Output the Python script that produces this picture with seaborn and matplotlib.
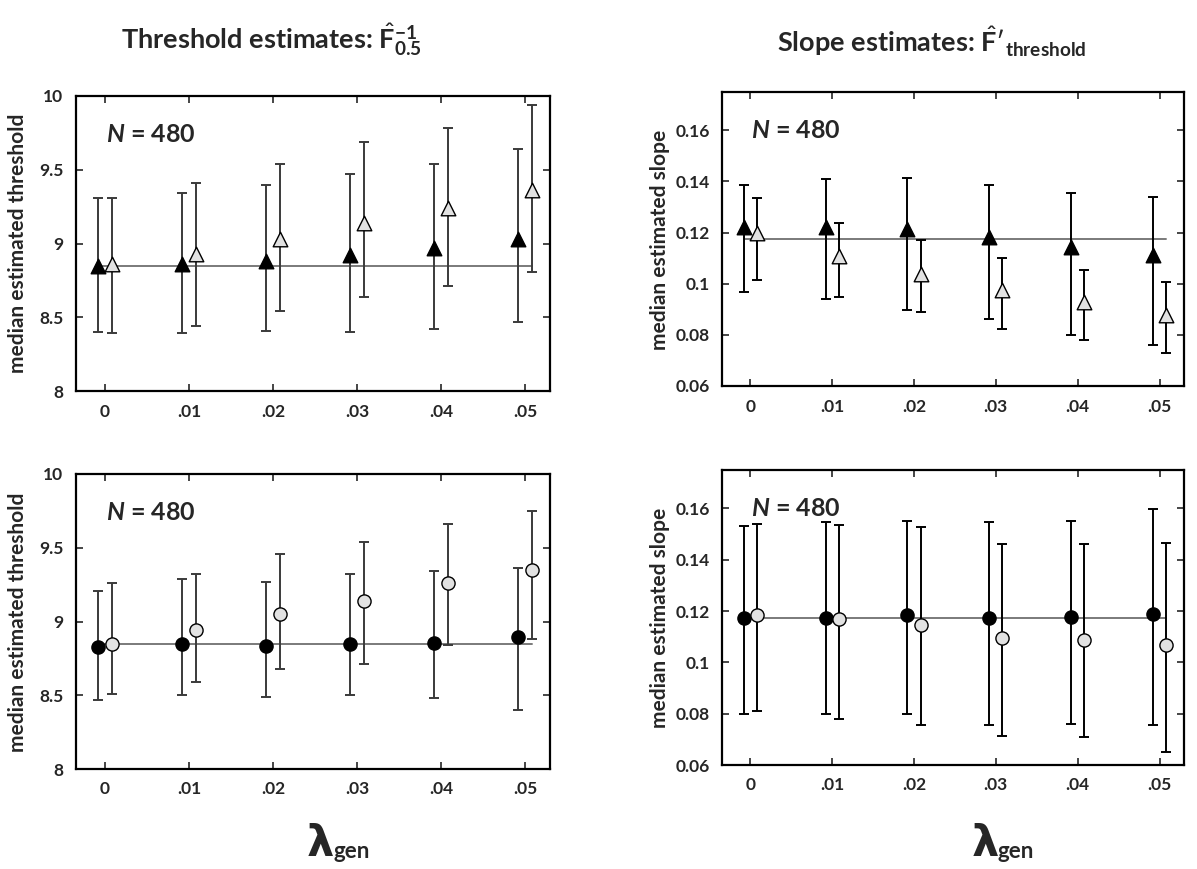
import numpy as np
import pandas as pd
import seaborn as sns
import matplotlib.pyplot as plt

# ---------------- data ----------------
lam = [0, 0.01, 0.02, 0.03, 0.04, 0.05]
lam_labels = ["0", ".01", ".02", ".03", ".04", ".05"]

# top-left: threshold, triangles
thr_tri_fill = [8.85, 8.86, 8.88, 8.92, 8.97, 9.03]
thr_tri_fill_lo = [8.40, 8.39, 8.41, 8.40, 8.42, 8.47]
thr_tri_fill_hi = [9.31, 9.34, 9.40, 9.47, 9.54, 9.64]
thr_tri_open = [8.86, 8.93, 9.03, 9.14, 9.24, 9.36]
thr_tri_open_lo = [8.39, 8.44, 8.54, 8.64, 8.71, 8.81]
thr_tri_open_hi = [9.31, 9.41, 9.54, 9.69, 9.78, 9.94]

# top-right: slope, triangles
slp_tri_fill = [0.1222, 0.1222, 0.1214, 0.1182, 0.1143, 0.1114]
slp_tri_fill_lo = [0.0968, 0.0941, 0.0896, 0.0862, 0.0800, 0.0760]
slp_tri_fill_hi = [0.1387, 0.1409, 0.1414, 0.1385, 0.1354, 0.1341]
slp_tri_open = [0.1198, 0.1107, 0.1039, 0.0977, 0.0927, 0.0879]
slp_tri_open_lo = [0.1013, 0.0950, 0.0888, 0.0823, 0.0778, 0.0730]
slp_tri_open_hi = [0.1334, 0.1239, 0.1171, 0.1100, 0.1052, 0.1007]

# bottom-left: threshold, circles
thr_cir_fill = [8.83, 8.85, 8.835, 8.85, 8.853, 8.897]
thr_cir_fill_lo = [8.47, 8.50, 8.49, 8.50, 8.48, 8.40]
thr_cir_fill_hi = [9.21, 9.29, 9.27, 9.32, 9.34, 9.36]
thr_cir_open = [8.85, 8.94, 9.05, 9.14, 9.26, 9.35]
thr_cir_open_lo = [8.51, 8.59, 8.68, 8.71, 8.84, 8.88]
thr_cir_open_hi = [9.26, 9.32, 9.46, 9.54, 9.66, 9.75]

# bottom-right: slope, circles
slp_cir_fill = [0.1175, 0.1175, 0.1183, 0.1174, 0.1178, 0.1188]
slp_cir_fill_lo = [0.0798, 0.0799, 0.0800, 0.0756, 0.0760, 0.0757]
slp_cir_fill_hi = [0.1530, 0.1548, 0.1552, 0.1546, 0.1552, 0.1597]
slp_cir_open = [0.1186, 0.1170, 0.1144, 0.1096, 0.1087, 0.1066]
slp_cir_open_lo = [0.0810, 0.0778, 0.0756, 0.0715, 0.0711, 0.0651]
slp_cir_open_hi = [0.1540, 0.1534, 0.1528, 0.1462, 0.1462, 0.1465]

thr_true = 8.85
slp_true = 0.1175

thr_yticks = [8, 8.5, 9, 9.5, 10]
thr_yticklabels = ["8", "8.5", "9", "9.5", "10"]
slp_yticks = [0.06, 0.08, 0.10, 0.12, 0.14, 0.16]
slp_yticklabels = ["0.06", "0.08", "0.1", "0.12", "0.14", "0.16"]

# ---------------- style ----------------
sns.set_theme(style="ticks")
plt.rcParams['font.family'] = ['Lato', 'DejaVu Sans']
plt.rcParams['mathtext.fontset'] = 'custom'
plt.rcParams['mathtext.rm'] = 'Lato'
plt.rcParams['mathtext.bf'] = 'Lato:bold'
plt.rcParams['mathtext.it'] = 'Lato:bold:italic'

W, H = 1197, 869
fig = plt.figure(figsize=(W / 100, H / 100), dpi=100)


def ax_at(l, r, t, b):
    return fig.add_axes([l / W, 1 - b / H, (r - l) / W, (b - t) / H])


OFF = 0.0008


def panel(ax, fill, flo, fhi, opn, olo, ohi, true, marker, ylim, yticks, yticklabels, ms, ecol):
    x = np.array(lam)
    xf = x - OFF
    xo = x + OFF
    # reference line
    ref = pd.DataFrame({"x": [xf[0], xo[-1]], "y": [true, true]})
    sns.lineplot(data=ref, x="x", y="y", ax=ax, color="#7a7a7a", lw=1.4, zorder=1)
    for xs, m, lo, hi in [(xf, fill, flo, fhi), (xo, opn, olo, ohi)]:
        m = np.array(m)
        ax.errorbar(xs, m, yerr=[m - np.array(lo), np.array(hi) - m], fmt="none",
                    ecolor=ecol, elinewidth=1.4, capsize=3.5, capthick=1.4, zorder=2)
    df_f = pd.DataFrame({"x": xf, "y": fill})
    df_o = pd.DataFrame({"x": xo, "y": opn})
    sns.scatterplot(data=df_f, x="x", y="y", ax=ax, marker=marker, s=ms, color="black",
                    edgecolor="black", linewidth=1.0, zorder=3)
    sns.scatterplot(data=df_o, x="x", y="y", ax=ax, marker=marker, s=ms, color="#e2e2e2",
                    edgecolor="black", linewidth=1.0, zorder=3)
    ax.set_xlim(-0.00345, 0.05298)
    ax.set_ylim(*ylim)
    ax.set_xticks(lam)
    ax.set_xticklabels(lam_labels)
    ax.set_yticks(yticks)
    ax.set_yticklabels(yticklabels)
    ax.set_xlabel("")
    ax.set_ylabel("")
    ax.tick_params(direction="in", top=True, right=True, length=5, width=1.2,
                   labelsize=12.5, pad=9)
    for lab in ax.get_xticklabels() + ax.get_yticklabels():
        lab.set_fontweight("bold")
    for sp in ax.spines.values():
        sp.set_linewidth(1.6)
        sp.set_color("black")
    ax.text(0.063, 0.87, r"$\mathit{N}$ = 480", transform=ax.transAxes,
            fontsize=18, fontweight="bold", va="center", ha="left")
    leg = ax.get_legend()
    if leg:
        leg.remove()


ax1 = ax_at(76, 550, 96, 391)
panel(ax1, thr_tri_fill, thr_tri_fill_lo, thr_tri_fill_hi, thr_tri_open, thr_tri_open_lo,
      thr_tri_open_hi, thr_true, "^", (8, 10), thr_yticks, thr_yticklabels, 110, "#3a3a3a")
ax2 = ax_at(722, 1184, 92, 386)
panel(ax2, slp_tri_fill, slp_tri_fill_lo, slp_tri_fill_hi, slp_tri_open, slp_tri_open_lo,
      slp_tri_open_hi, slp_true, "^", (0.06, 0.175), slp_yticks, slp_yticklabels, 110, "black")
ax3 = ax_at(76, 550, 474, 769)
panel(ax3, thr_cir_fill, thr_cir_fill_lo, thr_cir_fill_hi, thr_cir_open, thr_cir_open_lo,
      thr_cir_open_hi, thr_true, "o", (8, 10), thr_yticks, thr_yticklabels, 90, "#3a3a3a")
ax4 = ax_at(722, 1184, 470, 765)
panel(ax4, slp_cir_fill, slp_cir_fill_lo, slp_cir_fill_hi, slp_cir_open, slp_cir_open_lo,
      slp_cir_open_hi, slp_true, "o", (0.06, 0.175), slp_yticks, slp_yticklabels, 90, "black")

# y labels
for (x, y, s) in [(18, 243, "median estimated threshold"), (18, 622, "median estimated threshold"),
                  (660, 240, "median estimated slope"), (660, 618, "median estimated slope")]:
    fig.text(x / W, 1 - y / H, s, rotation=90, ha="center", va="center",
             fontsize=15, fontweight="bold")

# titles
fig.text(271 / W, 1 - 40 / H, r"Threshold estimates: $\hat{\mathbf{F}}^{\mathbf{-1}}_{\mathbf{0.5}}$",
         ha="center", va="center", fontsize=19.5, fontweight="bold")
fig.text(932 / W, 1 - 42 / H, r"Slope estimates: $\hat{\mathbf{F}}\prime_{\mathbf{threshold}}$",
         ha="center", va="center", fontsize=19.5, fontweight="bold")

# x labels (lambda_gen)
for xl in [307, 972]:
    fig.text(xl / W, 1 - 856 / H, "λ", ha="left", va="baseline", fontsize=31,
             fontweight="bold", family="DejaVu Sans")
    fig.text((xl + 26) / W, 1 - 858 / H, "gen", ha="left", va="baseline", fontsize=16,
             fontweight="bold")

fig.savefig("out.png", dpi=100)
